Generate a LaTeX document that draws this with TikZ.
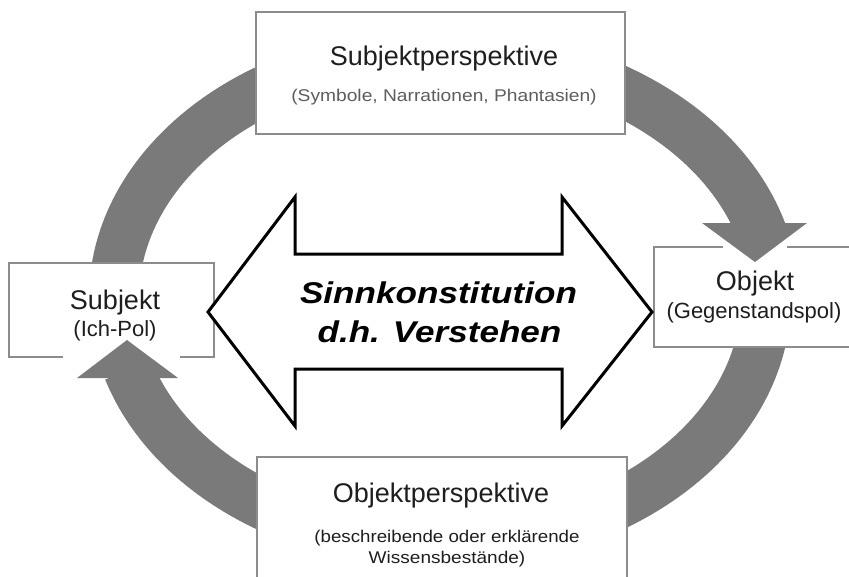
\documentclass[tikz,border=0pt]{standalone}
\usepackage{fontspec}
\setmainfont{Liberation Sans}
\usetikzlibrary{calc}
\definecolor{ringgray}{HTML}{7A7A7A}
\definecolor{boxline}{HTML}{8C8C8C}
\definecolor{txt}{HTML}{1E1E1E}
\definecolor{subgray}{HTML}{5E5E5E}
\begin{document}
\begin{tikzpicture}[x=1pt,y=-1pt,
  panel/.style={draw=boxline,line width=1.3pt,fill=white,inner sep=0pt,outer sep=0pt},
  boxedge/.style={draw=boxline,line width=1.3pt},
  ring/.style={draw=ringgray,line width=50pt},
  headfill/.style={fill=ringgray},
  title/.style={anchor=base,inner sep=0pt,text=txt,font=\fontsize{27}{32}\selectfont},
  subtitle/.style={anchor=base,inner sep=0pt,text=txt,font=\fontsize{22}{26}\selectfont},
  smalltxt/.style={anchor=base,inner sep=0pt,font=\fontsize{17}{20}\selectfont},
  bigtxt/.style={anchor=base,inner sep=0pt,text=black,font=\fontsize{30}{36}\selectfont\bfseries\itshape}]
\useasboundingbox (0,0) rectangle (849,576);
\clip (0,0) rectangle (849,576);
\fill[white] (0,0) rectangle (849,576);

% ring center
\coordinate (rc) at (440,298);

% gray arcs (behind the boxes)
\draw[ring] (rc) ++(180:326 and 246) arc[start angle=180,end angle=250,x radius=326,y radius=246];
\draw[ring] (rc) ++(290:334 and 246) arc[start angle=290,end angle=345,x radius=334,y radius=246];
\draw[ring] (rc) ++(10:326 and 246) arc[start angle=10,end angle=110,x radius=326,y radius=246];
\draw[ring] (rc) ++(70:326 and 246) arc[start angle=70,end angle=163,x radius=326,y radius=246];

% boxes
\node[panel,minimum width=369pt,minimum height=122pt] (topbox) at (440.5,73) {};
\node[panel,minimum width=370pt,minimum height=143pt] (botbox) at (442,528.5) {};
\node[panel,draw=none,minimum width=205pt,minimum height=94pt] (subj) at (111.5,310) {};
\node[panel,draw=none,minimum width=202pt,minimum height=100pt] (obj) at (755,297) {};

\draw[boxedge] ($(subj.south west)+(54,0)$) -- (subj.south west) -- (subj.north west)
  -- (subj.north east) -- (subj.south east) -- ($(subj.south east)+(-34,0)$);
\draw[boxedge] ($(obj.north west)+(69,0)$) -- (obj.north west) -- (obj.south west)
  -- (obj.south east) -- (obj.north east) -- ($(obj.north west)+(133,0)$);

% arrow heads of the curved arrows
\fill[headfill] (702,223) -- (807,223) -- (755,262) -- cycle;
\fill[headfill] (77,378) -- (178,378) -- (127,340) -- cycle;

% central double arrow
\draw[line width=3pt,line join=miter,fill=white]
  (208,312) -- (295,197) -- (295,254) -- (562,254) -- (562,197) -- (652,312)
  -- (562,426) -- (562,369) -- (295,369) -- (295,426) -- cycle;

% texts
\node[title] (t1) at (444,65) {Subjektperspektive};
\node[smalltxt,text=subgray] (t1s) at (444,101) {\scalebox{1.13}[1]{(Symbole, Narrationen, Phantasien)}};
\node[title] (t2) at (115,309) {Subjekt};
\node[subtitle] (t2s) at (115,336) {(Ich-Pol)};
\node[title] (t3) at (755,290) {Objekt};
\node[subtitle] (t3s) at (754,318) {(Gegenstandspol)};
\node[title] (t4) at (441,502) {Objektperspektive};
\node[smalltxt,text=txt] (t4s) at (447,542) {\scalebox{1.1}[1]{(beschreibende oder erklärende}};
\node[smalltxt,text=txt] (t4t) at (447,563) {\scalebox{1.12}[1]{Wissensbestände)}};
\node[bigtxt] (sinn) at (438.5,303) {\scalebox{1.17}[1]{Sinnkonstitution}};
\node[bigtxt] (verst) at (439.5,342) {\scalebox{1.17}[1]{d.h. Verstehen}};
\end{tikzpicture}
\end{document}
